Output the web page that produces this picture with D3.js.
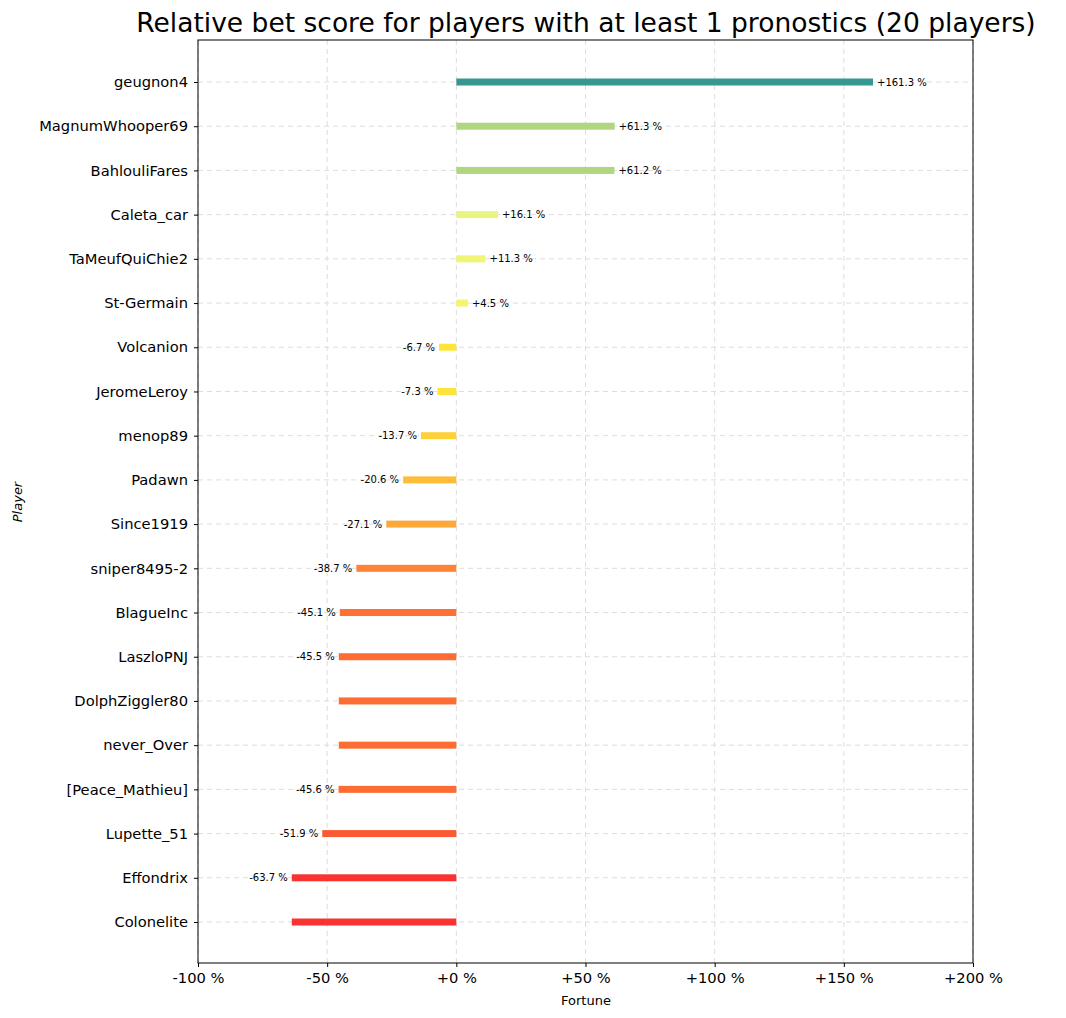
<!DOCTYPE html>
<html><head><meta charset="utf-8">
<script src="https://cdn.jsdelivr.net/npm/d3@7"></script>
<style>body{margin:0;background:#fff}svg text{font-family:"DejaVu Sans",sans-serif}</style>
</head><body><svg id="c" width="1066" height="1018"></svg>
<script>
const players = ["geugnon4","MagnumWhooper69","BahlouliFares","Caleta_car","TaMeufQuiChie2","St-Germain","Volcanion","JeromeLeroy","menop89","Padawn","Since1919","sniper8495-2","BlagueInc","LaszloPNJ","DolphZiggler80","never_Over","[Peace_Mathieu]","Lupette_51","Effondrix","Colonelite"];
const scores = [161.3,61.3,61.2,16.1,11.3,4.5,-6.7,-7.3,-13.7,-20.6,-27.1,-38.7,-45.1,-45.5,-45.5,-45.5,-45.6,-51.9,-63.7,-63.7];
const showLabel = [1,1,1,1,1,1,1,1,1,1,1,1,1,1,0,0,1,1,1,0];
const xTicks = [-100,-50,0,50,100,150,200];

const svg = d3.select("#c");
const m = {l:198, r:973, t:40, b:963};
const x = d3.scaleLinear().domain([-100,200]).range([m.l,m.r]);
const y = d3.scalePoint().domain(players).range([82,922]);
const color = d3.scaleLinear()
  .domain([-64,-45,-27,-7,4,16,61,161])
  .range(["#f83232","#fd6f33","#fda83a","#fde53a","#f5f56b","#e9f57f","#b0d67f","#35978f"]);
const fmt = v => (v >= 0 ? "+" : "") + v.toFixed(1) + " %";
const fmtTick = v => (v >= 0 ? "+" : "") + v + " %";

const g = svg.append("g");
// grid
g.selectAll(".gx").data(xTicks).join("line")
  .attr("x1", d => x(d)).attr("x2", d => x(d)).attr("y1", m.t).attr("y2", m.b)
  .attr("stroke", "#ddd").attr("stroke-dasharray", "5,4");
g.selectAll(".gy").data(players).join("line")
  .attr("x1", m.l).attr("x2", m.r).attr("y1", d => y(d)).attr("y2", d => y(d))
  .attr("stroke", "#ddd").attr("stroke-dasharray", "5,4");

// bars
g.selectAll(".bar").data(players).join("rect")
  .attr("x", (d,i) => x(Math.min(0, scores[i])))
  .attr("width", (d,i) => Math.abs(x(scores[i]) - x(0)))
  .attr("y", d => y(d) - 3.5).attr("height", 7)
  .attr("fill", (d,i) => color(scores[i]));

g.selectAll(".lbl").data(players.filter((d,i) => showLabel[i])).join("text")
  .attr("x", d => { const v = scores[players.indexOf(d)]; return x(v) + (v >= 0 ? 4 : -4); })
  .attr("y", d => y(d) + 3.5)
  .attr("text-anchor", d => scores[players.indexOf(d)] >= 0 ? "start" : "end")
  .attr("font-size", 10).text(d => fmt(scores[players.indexOf(d)]));

// axes
const xa = svg.append("g").attr("transform", `translate(0,${m.b})`)
  .call(d3.axisBottom(x).tickValues(xTicks).tickSize(4).tickPadding(6).tickFormat(fmtTick));
xa.selectAll("text").attr("font-size", 14.7).attr("fill", "#000");
xa.select(".domain").remove();
const ya = svg.append("g").attr("transform", `translate(${m.l},0)`)
  .call(d3.axisLeft(y).tickSize(4).tickPadding(6));
ya.selectAll("text").attr("font-size", 14.7).attr("fill", "#000");
ya.select(".domain").remove();
svg.append("rect").attr("x", m.l).attr("y", m.t).attr("width", m.r - m.l).attr("height", m.b - m.t)
  .attr("fill", "none").attr("stroke", "#000");

svg.append("text").attr("x", 586).attr("y", 1005).attr("text-anchor", "middle")
  .attr("font-size", 13).text("Fortune");
svg.append("text").attr("transform", "translate(22,502) rotate(-90)").attr("text-anchor", "middle")
  .attr("font-size", 13).attr("font-style", "italic").text("Player");
svg.append("text").attr("x", 586).attr("y", 32).attr("text-anchor", "middle")
  .attr("font-size", 26.5).text("Relative bet score for players with at least 1 pronostics (20 players)");
</script></body></html>
